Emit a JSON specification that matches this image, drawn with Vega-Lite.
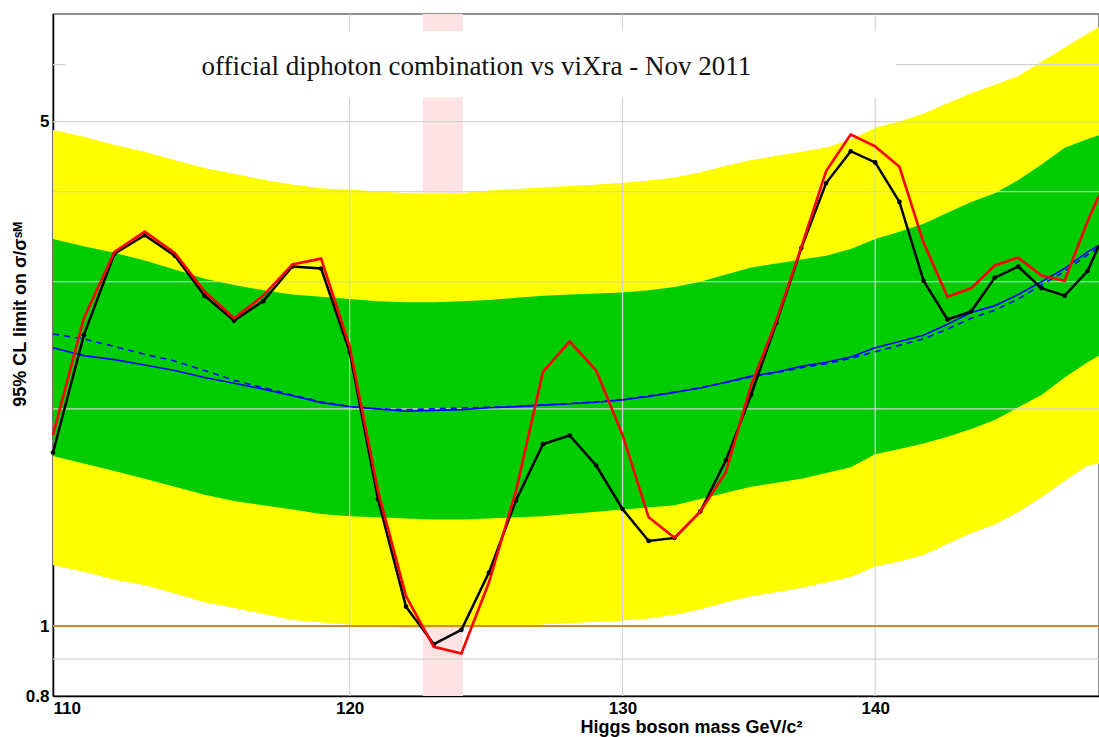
{
  "$schema": "https://vega.github.io/schema/vega-lite/v6.json",
  "width": 1046,
  "height": 682,
  "autosize": {"type": "none"},
  "padding": {"left": 53, "top": 14, "right": 0, "bottom": 41},
  "background": "white",
  "config": {
    "view": {"stroke": "#6e6e6e", "strokeWidth": 1.5},
    "axis": {"grid": false, "ticks": false}
  },
  "datasets": {
    "limits": [
      {"m": 110, "obs": 1.74, "vix": 1.84, "exp": 2.43, "expd": 2.54, "y2lo": 1.215, "g1lo": 1.72, "g1hi": 3.44, "y2hi": 4.87},
      {"m": 111, "obs": 2.53, "vix": 2.67, "exp": 2.37, "expd": 2.50, "y2lo": 1.19, "g1lo": 1.68, "g1hi": 3.36, "y2hi": 4.76},
      {"m": 112, "obs": 3.28, "vix": 3.30, "exp": 2.34, "expd": 2.44, "y2lo": 1.16, "g1lo": 1.64, "g1hi": 3.29, "y2hi": 4.64},
      {"m": 113, "obs": 3.48, "vix": 3.52, "exp": 2.30, "expd": 2.38, "y2lo": 1.14, "g1lo": 1.60, "g1hi": 3.21, "y2hi": 4.54},
      {"m": 114, "obs": 3.26, "vix": 3.29, "exp": 2.26, "expd": 2.33, "y2lo": 1.11, "g1lo": 1.56, "g1hi": 3.12, "y2hi": 4.42},
      {"m": 115, "obs": 2.87, "vix": 2.91, "exp": 2.21, "expd": 2.26, "y2lo": 1.08, "g1lo": 1.52, "g1hi": 3.03, "y2hi": 4.31},
      {"m": 116, "obs": 2.65, "vix": 2.67, "exp": 2.17, "expd": 2.19, "y2lo": 1.06, "g1lo": 1.49, "g1hi": 2.97, "y2hi": 4.23},
      {"m": 117, "obs": 2.82, "vix": 2.87, "exp": 2.13, "expd": 2.14, "y2lo": 1.04, "g1lo": 1.47, "g1hi": 2.92, "y2hi": 4.15},
      {"m": 118, "obs": 3.15, "vix": 3.17, "exp": 2.085, "expd": 2.09, "y2lo": 1.02, "g1lo": 1.45, "g1hi": 2.88, "y2hi": 4.09},
      {"m": 119, "obs": 3.13, "vix": 3.23, "exp": 2.04, "expd": 2.045, "y2lo": 1.012, "g1lo": 1.43, "g1hi": 2.86, "y2hi": 4.04},
      {"m": 120, "obs": 2.40, "vix": 2.44, "exp": 2.015, "expd": 2.015, "y2lo": 1.005, "g1lo": 1.42, "g1hi": 2.84, "y2hi": 4.02},
      {"m": 121, "obs": 1.50, "vix": 1.54, "exp": 2.00, "expd": 2.00, "y2lo": 1.0, "g1lo": 1.415, "g1hi": 2.82, "y2hi": 4.00},
      {"m": 122, "obs": 1.064, "vix": 1.10, "exp": 1.985, "expd": 1.995, "y2lo": 0.995, "g1lo": 1.41, "g1hi": 2.81, "y2hi": 3.98},
      {"m": 123, "obs": 0.944, "vix": 0.936, "exp": 1.99, "expd": 2.0, "y2lo": 0.993, "g1lo": 1.405, "g1hi": 2.81, "y2hi": 3.97},
      {"m": 124, "obs": 0.988, "vix": 0.916, "exp": 1.995, "expd": 2.005, "y2lo": 0.995, "g1lo": 1.405, "g1hi": 2.82, "y2hi": 3.98},
      {"m": 125, "obs": 1.185, "vix": 1.148, "exp": 2.007, "expd": 2.01, "y2lo": 0.998, "g1lo": 1.41, "g1hi": 2.83, "y2hi": 4.01},
      {"m": 126, "obs": 1.493, "vix": 1.539, "exp": 2.014, "expd": 2.016, "y2lo": 1.0, "g1lo": 1.415, "g1hi": 2.85, "y2hi": 4.03},
      {"m": 127, "obs": 1.787, "vix": 2.25, "exp": 2.024, "expd": 2.025, "y2lo": 1.006, "g1lo": 1.42, "g1hi": 2.87, "y2hi": 4.05},
      {"m": 128, "obs": 1.837, "vix": 2.48, "exp": 2.033, "expd": 2.034, "y2lo": 1.01, "g1lo": 1.43, "g1hi": 2.88, "y2hi": 4.07},
      {"m": 129, "obs": 1.669, "vix": 2.26, "exp": 2.043, "expd": 2.045, "y2lo": 1.014, "g1lo": 1.44, "g1hi": 2.89, "y2hi": 4.09},
      {"m": 130, "obs": 1.453, "vix": 1.84, "exp": 2.058, "expd": 2.06, "y2lo": 1.018, "g1lo": 1.45, "g1hi": 2.90, "y2hi": 4.11},
      {"m": 131, "obs": 1.312, "vix": 1.415, "exp": 2.08, "expd": 2.085, "y2lo": 1.025, "g1lo": 1.46, "g1hi": 2.92, "y2hi": 4.14},
      {"m": 132, "obs": 1.325, "vix": 1.325, "exp": 2.108, "expd": 2.11, "y2lo": 1.037, "g1lo": 1.47, "g1hi": 2.95, "y2hi": 4.18},
      {"m": 133, "obs": 1.441, "vix": 1.441, "exp": 2.138, "expd": 2.14, "y2lo": 1.055, "g1lo": 1.50, "g1hi": 3.00, "y2hi": 4.25},
      {"m": 134, "obs": 1.697, "vix": 1.634, "exp": 2.177, "expd": 2.175, "y2lo": 1.08, "g1lo": 1.53, "g1hi": 3.07, "y2hi": 4.34},
      {"m": 135, "obs": 2.094, "vix": 2.159, "exp": 2.22, "expd": 2.215, "y2lo": 1.10, "g1lo": 1.56, "g1hi": 3.14, "y2hi": 4.42},
      {"m": 136, "obs": 2.63, "vix": 2.649, "exp": 2.25, "expd": 2.245, "y2lo": 1.115, "g1lo": 1.58, "g1hi": 3.18, "y2hi": 4.48},
      {"m": 137, "obs": 3.34, "vix": 3.35, "exp": 2.29, "expd": 2.28, "y2lo": 1.13, "g1lo": 1.60, "g1hi": 3.22, "y2hi": 4.54},
      {"m": 138, "obs": 4.11, "vix": 4.27, "exp": 2.32, "expd": 2.31, "y2lo": 1.15, "g1lo": 1.63, "g1hi": 3.26, "y2hi": 4.60},
      {"m": 139, "obs": 4.55, "vix": 4.80, "exp": 2.36, "expd": 2.35, "y2lo": 1.17, "g1lo": 1.66, "g1hi": 3.33, "y2hi": 4.72},
      {"m": 140, "obs": 4.39, "vix": 4.62, "exp": 2.43, "expd": 2.40, "y2lo": 1.21, "g1lo": 1.73, "g1hi": 3.44, "y2hi": 4.90},
      {"m": 141, "obs": 3.87, "vix": 4.33, "exp": 2.48, "expd": 2.45, "y2lo": 1.23, "g1lo": 1.76, "g1hi": 3.52, "y2hi": 5.00},
      {"m": 142, "obs": 3.01, "vix": 3.40, "exp": 2.53, "expd": 2.50, "y2lo": 1.256, "g1lo": 1.79, "g1hi": 3.61, "y2hi": 5.13},
      {"m": 143, "obs": 2.66, "vix": 2.86, "exp": 2.62, "expd": 2.58, "y2lo": 1.30, "g1lo": 1.83, "g1hi": 3.74, "y2hi": 5.30},
      {"m": 144, "obs": 2.73, "vix": 2.94, "exp": 2.72, "expd": 2.67, "y2lo": 1.346, "g1lo": 1.875, "g1hi": 3.87, "y2hi": 5.47},
      {"m": 145, "obs": 3.04, "vix": 3.16, "exp": 2.78, "expd": 2.74, "y2lo": 1.384, "g1lo": 1.93, "g1hi": 3.98, "y2hi": 5.62},
      {"m": 146, "obs": 3.15, "vix": 3.24, "exp": 2.88, "expd": 2.84, "y2lo": 1.44, "g1lo": 2.01, "g1hi": 4.15, "y2hi": 5.78},
      {"m": 147, "obs": 2.94, "vix": 3.06, "exp": 3.00, "expd": 2.97, "y2lo": 1.51, "g1lo": 2.09, "g1hi": 4.36, "y2hi": 6.05},
      {"m": 148, "obs": 2.87, "vix": 3.01, "exp": 3.13, "expd": 3.10, "y2lo": 1.59, "g1lo": 2.21, "g1hi": 4.60, "y2hi": 6.33},
      {"m": 149, "obs": 3.105, "vix": 3.64, "exp": 3.30, "expd": 3.27, "y2lo": 1.67, "g1lo": 2.32, "g1hi": 4.73, "y2hi": 6.62},
      {"m": 149.5, "obs": 3.37, "vix": 3.95, "exp": 3.37, "expd": 3.35, "y2lo": 1.68, "g1lo": 2.37, "g1hi": 4.79, "y2hi": 6.76}
    ],
    "pink": [{"lo": 122.6, "hi": 124.05}],
    "gridx": [{"m": 120}, {"m": 130}, {"m": 140}],
    "gridy": [{"v": 0.9}, {"v": 2}, {"v": 3}, {"v": 4}, {"v": 5}, {"v": 6}],
    "unity": [{"v": 1}],
    "titlebox": [{"x1": 110.41, "x2": 140.85, "y1": 5.40, "y2": 6.67, "tx": 114.9, "ty": 5.80, "label": "official diphoton combination vs viXra - Nov 2011"}]
  },
  "layer": [
    {
      "data": {"name": "limits"},
      "mark": {"type": "area", "color": "#FFFF00", "opacity": 1},
      "encoding": {
        "x": {"field": "m", "type": "quantitative",
          "scale": {"type": "log", "domain": [110, 149.5], "nice": false, "zero": false},
          "title": "Higgs boson mass GeV/c²",
          "axis": {"values": [110, 120, 130, 140], "format": "d",
            "grid": false, "ticks": false,
            "labelFont": "Liberation Sans", "labelFontWeight": "bold", "labelFontSize": 17, "labelColor": "#000000",
            "labelPadding": 4,
            "domainColor": "#000000", "domainWidth": 1.5,
            "titleFont": "Liberation Sans", "titleFontWeight": "bold", "titleFontSize": 18, "titleColor": "#000000",
            "titleX": 638, "titleY": 36, "titleAlign": "center", "titleBaseline": "alphabetic"}
        },
        "y": {"field": "y2lo", "type": "quantitative",
          "scale": {"type": "log", "domain": [0.8, 7.05], "nice": false, "zero": false},
          "title": "95% CL limit on σ/σˢᴹ",
          "axis": {"values": [0.8, 1, 5], "format": "~g",
            "grid": false, "ticks": false,
            "labelFont": "Liberation Sans", "labelFontWeight": "bold", "labelFontSize": 17, "labelColor": "#000000",
            "labelPadding": 4,
            "domainColor": "#000000", "domainWidth": 1.5,
            "titleFont": "Liberation Sans", "titleFontWeight": "bold", "titleFontSize": 18, "titleColor": "#000000",
            "titleX": -33, "titleY": 300, "titleAngle": -90, "titleAlign": "center", "titleBaseline": "middle"}
        },
        "y2": {"field": "y2hi"}
      }
    },
    {
      "data": {"name": "pink"},
      "mark": {"type": "rect", "color": "#FDE3E3"},
      "encoding": {
        "x": {"field": "lo", "type": "quantitative", "title": "Higgs boson mass GeV/c²"},
        "x2": {"field": "hi"}
      }
    },
    {
      "data": {"name": "limits"},
      "mark": {"type": "area", "color": "#FFFF00", "opacity": 1},
      "encoding": {
        "x": {"field": "m", "type": "quantitative", "title": "Higgs boson mass GeV/c²"},
        "y": {"field": "y2lo", "type": "quantitative", "title": "95% CL limit on σ/σˢᴹ"},
        "y2": {"field": "y2hi"}
      }
    },
    {
      "data": {"name": "limits"},
      "mark": {"type": "area", "color": "#00CC00", "opacity": 1},
      "encoding": {
        "x": {"field": "m", "type": "quantitative", "title": "Higgs boson mass GeV/c²"},
        "y": {"field": "g1lo", "type": "quantitative", "title": "95% CL limit on σ/σˢᴹ"},
        "y2": {"field": "g1hi"}
      }
    },
    {
      "data": {"name": "gridx"},
      "mark": {"type": "rule", "color": "#D4D4D4", "strokeWidth": 1.2},
      "encoding": {
        "x": {"field": "m", "type": "quantitative", "title": "Higgs boson mass GeV/c²"}
      }
    },
    {
      "data": {"name": "gridy"},
      "mark": {"type": "rule", "color": "#D4D4D4", "strokeWidth": 1.2},
      "encoding": {
        "y": {"field": "v", "type": "quantitative", "title": "95% CL limit on σ/σˢᴹ"}
      }
    },
    {
      "data": {"name": "titlebox"},
      "mark": {"type": "rect", "color": "#FFFFFF"},
      "encoding": {
        "x": {"field": "x1", "type": "quantitative", "title": "Higgs boson mass GeV/c²"},
        "x2": {"field": "x2"},
        "y": {"field": "y1", "type": "quantitative", "title": "95% CL limit on σ/σˢᴹ"},
        "y2": {"field": "y2"}
      }
    },
    {
      "data": {"name": "limits"},
      "mark": {"type": "line", "color": "#0000FF", "strokeWidth": 1.6, "strokeDash": [6, 5]},
      "encoding": {
        "x": {"field": "m", "type": "quantitative", "title": "Higgs boson mass GeV/c²"},
        "y": {"field": "expd", "type": "quantitative", "title": "95% CL limit on σ/σˢᴹ"}
      }
    },
    {
      "data": {"name": "limits"},
      "mark": {"type": "line", "color": "#0000FF", "strokeWidth": 1.6},
      "encoding": {
        "x": {"field": "m", "type": "quantitative", "title": "Higgs boson mass GeV/c²"},
        "y": {"field": "exp", "type": "quantitative", "title": "95% CL limit on σ/σˢᴹ"}
      }
    },
    {
      "data": {"name": "unity"},
      "mark": {"type": "rule", "color": "#D08A28", "strokeWidth": 2},
      "encoding": {
        "y": {"field": "v", "type": "quantitative", "title": "95% CL limit on σ/σˢᴹ"}
      }
    },
    {
      "data": {"name": "limits"},
      "mark": {"type": "line", "color": "#000000", "strokeWidth": 2.5},
      "encoding": {
        "x": {"field": "m", "type": "quantitative", "title": "Higgs boson mass GeV/c²"},
        "y": {"field": "obs", "type": "quantitative", "title": "95% CL limit on σ/σˢᴹ"}
      }
    },
    {
      "data": {"name": "limits"},
      "transform": [{"filter": "datum.m <= 149"}],
      "mark": {"type": "point", "filled": true, "color": "#000000", "size": 22, "opacity": 1},
      "encoding": {
        "x": {"field": "m", "type": "quantitative", "title": "Higgs boson mass GeV/c²"},
        "y": {"field": "obs", "type": "quantitative", "title": "95% CL limit on σ/σˢᴹ"}
      }
    },
    {
      "data": {"name": "limits"},
      "mark": {"type": "line", "color": "#FF0000", "strokeWidth": 2.6},
      "encoding": {
        "x": {"field": "m", "type": "quantitative", "title": "Higgs boson mass GeV/c²"},
        "y": {"field": "vix", "type": "quantitative", "title": "95% CL limit on σ/σˢᴹ"}
      }
    },
    {
      "data": {"name": "titlebox"},
      "mark": {"type": "text", "font": "Liberation Serif", "fontSize": 27, "color": "#111111", "align": "left", "baseline": "alphabetic"},
      "encoding": {
        "x": {"field": "tx", "type": "quantitative", "title": "Higgs boson mass GeV/c²"},
        "y": {"field": "ty", "type": "quantitative", "title": "95% CL limit on σ/σˢᴹ"},
        "text": {"field": "label"}
      }
    }
  ]
}
